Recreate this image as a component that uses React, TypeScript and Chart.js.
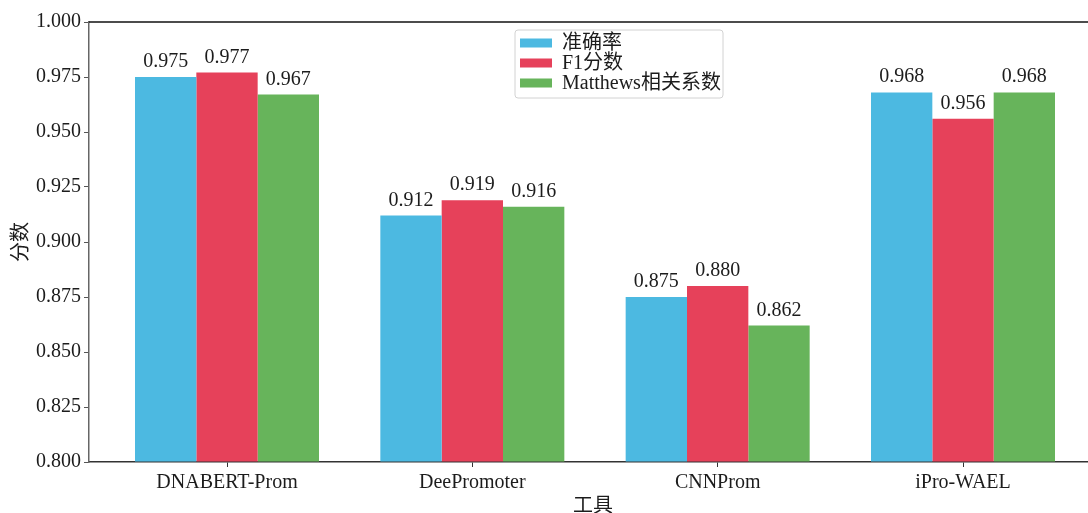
import React, { useEffect, useRef } from "react";
import { Chart, registerables } from "chart.js";

Chart.register(...registerables);

// Tools compared and their scores
const tools = ["DNABERT-Prom", "DeePromoter", "CNNProm", "iPro-WAEL"];
const accuracy = [0.975, 0.912, 0.875, 0.968];
const f1Score = [0.977, 0.919, 0.88, 0.956];
const mcc = [0.967, 0.916, 0.862, 0.968];

const seriesNames = ["准确率", "F1分数", "Matthews相关系数"];
const seriesColors = ["#4cb9e1", "#e6415a", "#67b45b"];

const yTicks = [0.8, 0.825, 0.85, 0.875, 0.9, 0.925, 0.95, 0.975, 1.0];
const yTitle = "分数";
const xTitle = "工具";

const FONT = "'Liberation Serif', 'Noto Sans CJK SC', serif";
const TEXT = "#1c1c1c";

const extras = {
  id: "extras",
  afterDatasetsDraw(chart: any) {
    const ctx = chart.ctx;
    ctx.save();
    ctx.font = `20px ${FONT}`;
    ctx.fillStyle = TEXT;
    ctx.textAlign = "center";
    ctx.textBaseline = "alphabetic";
    chart.data.datasets.forEach((ds: any, i: number) => {
      const meta = chart.getDatasetMeta(i);
      meta.data.forEach((el: any, j: number) => {
        const v = ds.data[j].y;
        ctx.fillText(v.toFixed(3), el.x, el.y - 10);
      });
    });
    ctx.restore();
  },
  afterDraw(chart: any) {
    const ctx = chart.ctx;
    const a = chart.chartArea;
    ctx.save();
    // top spine
    ctx.strokeStyle = "#111";
    ctx.lineWidth = 1.5;
    ctx.beginPath();
    ctx.moveTo(a.left, a.top);
    ctx.lineTo(a.right, a.top);
    ctx.stroke();

    // axis titles
    ctx.fillStyle = TEXT;
    ctx.font = `20px ${FONT}`;
    ctx.textAlign = "center";
    ctx.textBaseline = "middle";
    ctx.fillText(xTitle, (a.left + a.right) / 2 - 2, 507);
    ctx.save();
    ctx.translate(22, (a.top + a.bottom) / 2);
    ctx.rotate(-Math.PI / 2);
    ctx.fillText(yTitle, 0, 0);
    ctx.restore();

    // legend
    const lx = 515, ly = 30, lw = 208, lh = 68, r = 3;
    ctx.beginPath();
    ctx.moveTo(lx + r, ly);
    ctx.lineTo(lx + lw - r, ly);
    ctx.arcTo(lx + lw, ly, lx + lw, ly + r, r);
    ctx.lineTo(lx + lw, ly + lh - r);
    ctx.arcTo(lx + lw, ly + lh, lx + lw - r, ly + lh, r);
    ctx.lineTo(lx + r, ly + lh);
    ctx.arcTo(lx, ly + lh, lx, ly + lh - r, r);
    ctx.lineTo(lx, ly + r);
    ctx.arcTo(lx, ly, lx + r, ly, r);
    ctx.closePath();
    ctx.fillStyle = "rgba(255,255,255,0.85)";
    ctx.fill();
    ctx.strokeStyle = "#d2d2d2";
    ctx.lineWidth = 1;
    ctx.stroke();

    ctx.textAlign = "left";
    ctx.textBaseline = "middle";
    seriesNames.forEach((name, i) => {
      const cy = 43 + i * 20;
      ctx.fillStyle = seriesColors[i];
      ctx.fillRect(520, cy - 4.5, 32, 9);
      ctx.fillStyle = TEXT;
      ctx.fillText(name, 562, cy + 1);
    });
    ctx.restore();
  },
};

export default function App() {
  const canvasRef = useRef<HTMLCanvasElement | null>(null);

  useEffect(() => {
    const canvas = canvasRef.current;
    if (!canvas) return;
    const series = [accuracy, f1Score, mcc];
    const chart = new Chart(canvas, {
      type: "bar",
      data: {
        datasets: series.map((vals, i) => ({
          label: seriesNames[i],
          data: vals.map((v, j) => ({ x: j, y: v })),
          backgroundColor: seriesColors[i],
          borderWidth: 0,
          base: 0.8,
          categoryPercentage: 0.75,
          barPercentage: 1.0,
        })),
      },
      options: {
        animation: false,
        responsive: true,
        maintainAspectRatio: false,
        layout: { padding: { top: 22, left: 0, right: 0, bottom: 0 } },
        plugins: {
          legend: { display: false },
          tooltip: { enabled: false },
        },
        scales: {
          x: {
            type: "linear",
            min: -0.5625,
            max: 3.5625,
            offset: false,
            afterBuildTicks: (scale: any) => {
              scale.ticks = tools.map((_, i) => ({ value: i }));
            },
            afterFit: (scale: any) => {
              scale.height = 51;
            },
            ticks: {
              callback: (v: any) => tools[Math.round(Number(v))] ?? "",
              font: { family: FONT, size: 20 },
              color: TEXT,
              padding: 4,
              maxRotation: 0,
              autoSkip: false,
            },
            grid: {
              display: true,
              offset: false,
              drawOnChartArea: false,
              drawTicks: true,
              tickLength: 5,
              color: "#333",
            },
            border: { display: true, color: "#333", width: 1.5 },
          },
          y: {
            min: 0.8,
            max: 1.0,
            afterBuildTicks: (scale: any) => {
              scale.ticks = yTicks.map((v) => ({ value: v }));
            },
            afterFit: (scale: any) => {
              scale.width = 89;
            },
            ticks: {
              callback: (v: any) => Number(v).toFixed(3),
              font: { family: FONT, size: 20 },
              color: TEXT,
              padding: 3,
            },
            grid: {
              display: true,
              drawOnChartArea: false,
              drawTicks: true,
              tickLength: 5,
              color: "#555",
            },
            border: { display: true, color: "#666", width: 1.5 },
          },
        },
      },
      plugins: [extras],
    });
    return () => chart.destroy();
  }, []);

  return (
    <div
      style={{
        position: "fixed",
        left: 0,
        top: 0,
        width: 1088,
        height: 513,
        overflow: "hidden",
        background: "#fff",
      }}
    >
      <div style={{ position: "relative", width: 1101, height: 513 }}>
        <canvas ref={canvasRef} />
      </div>
    </div>
  );
}
